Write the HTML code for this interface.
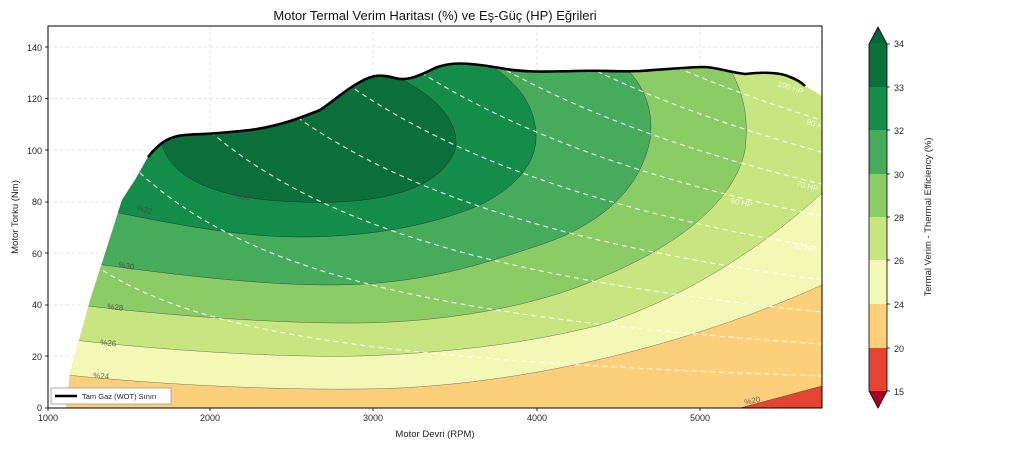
<!DOCTYPE html>
<html><head><meta charset="utf-8"><style>
body{margin:0;background:#fff;font-family:"Liberation Sans",sans-serif}
svg text{font-family:"Liberation Sans",sans-serif}
</style></head><body>
<svg id="s" width="1024" height="448" xmlns="http://www.w3.org/2000/svg">
<defs>
<clipPath id="env"><path id="envp" d="M148,157 C160,142 170,136 185,135 C200,134 215,134 250,130 C280,126 300,118 320,110 C335,100 345,90 360,82 C372,75 380,74 395,78 C405,81 415,78 435,68 C450,62 465,62 500,68 C520,72 540,72 575,71 C600,70 610,72 640,71 C670,69 690,67 705,67 C720,68 728,72 745,74 C760,72 780,72 790,77 C798,80 802,83 805,86 L822,96 L822,408 L66,408 L70,372 L79,340 L90,300 L103,260 L122,200 L135,180 Z"/></clipPath>
<clipPath id="plot"><rect x="48" y="26" width="774" height="382"/></clipPath>
</defs>
<rect width="1024" height="448" fill="#fff"/>
<g stroke="#ddd" stroke-dasharray="3,3" stroke-width="0.8">
<line x1="210" y1="26" x2="210" y2="408"/><line x1="373" y1="26" x2="373" y2="408"/><line x1="537" y1="26" x2="537" y2="408"/><line x1="700" y1="26" x2="700" y2="408"/>
<line x1="48" y1="47" x2="822" y2="47"/><line x1="48" y1="98.5" x2="822" y2="98.5"/><line x1="48" y1="150" x2="822" y2="150"/><line x1="48" y1="202" x2="822" y2="202"/><line x1="48" y1="253" x2="822" y2="253"/><line x1="48" y1="305" x2="822" y2="305"/><line x1="48" y1="356" x2="822" y2="356"/>
</g>
<g clip-path="url(#env)">
<rect x="40" y="20" width="790" height="400" fill="#fdcf7b"/>
<path d="M740,408 L822,386 L822,410 Z" fill="#e34530" stroke="#333" stroke-width="0.4"/>
<path d="M40,372 C150,385 300,392 400,388 C550,380 700,340 822,285 L822,0 L40,0 Z" fill="#f3f9b5" stroke="#555" stroke-width="0.4"/>
<path d="M40,336 C150,350 280,358 360,356 C470,352 540,340 600,325 C680,300 760,250 822,193 L822,0 L40,0 Z" fill="#c7e67f" stroke="#555" stroke-width="0.4"/>
<path d="M40,300 C150,315 280,324 360,323 C450,322 540,305 600,278 C680,245 735,200 745,150 C750,110 740,85 725,60 L40,0 Z" fill="#8ccc67" stroke="#444" stroke-width="0.4"/>
<path d="M40,256 C150,272 250,285 330,285 C420,285 480,265 540,245 C600,225 640,190 650,140 C655,105 640,80 620,62 L40,0 Z" fill="#47ab5c" stroke="#333" stroke-width="0.4"/>
<path d="M40,196 C150,220 230,237 300,237 C380,237 440,222 480,205 C520,185 537,160 536,135 C535,100 510,75 480,60 L40,0 Z" fill="#148c4a" stroke="#222" stroke-width="0.4"/>
<path d="M162,145 C175,185 230,200 300,202 C380,205 440,190 455,150 C462,120 430,90 385,72 L160,100 Z" fill="#0a6f38" stroke="#222" stroke-width="0.4"/>
<g id="hp" fill="none" stroke="#fff" stroke-opacity="0.8" stroke-width="1.2" stroke-dasharray="5,4"></g>
</g>
<path d="M148,157 C160,142 170,136 185,135 C200,134 215,134 250,130 C280,126 300,118 320,110 C335,100 345,90 360,82 C372,75 380,74 395,78 C405,81 415,78 435,68 C450,62 465,62 500,68 C520,72 540,72 575,71 C600,70 610,72 640,71 C670,69 690,67 705,67 C720,68 728,72 745,74 C760,72 780,72 790,77 C798,80 802,83 805,86" fill="none" stroke="#000" stroke-width="2.6"/>
<g font-size="8" fill="#444" fill-opacity="0.8">
<text x="234" y="198" transform="rotate(8 234 198)">%33</text>
<text x="136" y="210" transform="rotate(15 136 210)">%32</text>
<text x="118" y="267" transform="rotate(10 118 267)">%30</text>
<text x="107" y="309" transform="rotate(6 107 309)">%28</text>
<text x="100" y="345" transform="rotate(5 100 345)">%26</text>
<text x="93" y="378" transform="rotate(4 93 378)">%24</text>
<text x="745" y="405" transform="rotate(-12 745 405)">%20</text>
</g>
<g font-size="8" fill="#fff" fill-opacity="0.8">
<text x="777" y="86" transform="rotate(18 777 86)">100 HP</text>
<text x="806" y="124" transform="rotate(18 806 124)">90 HP</text>
<text x="796" y="186" transform="rotate(15 796 186)">70 HP</text>
<text x="730" y="203" transform="rotate(12 730 203)">60 HP</text>
<text x="793" y="248" transform="rotate(10 793 248)">50 HP</text>
</g>
<rect x="48" y="26" width="774" height="382" fill="none" stroke="#000" stroke-width="1"/>
<g font-size="9" fill="#222" text-anchor="end">
<text x="42" y="411">0</text><text x="42" y="360">20</text><text x="42" y="308">40</text><text x="42" y="257">60</text><text x="42" y="205">80</text><text x="42" y="154">100</text><text x="42" y="102">120</text><text x="42" y="51">140</text>
</g>
<g stroke="#000" stroke-width="0.8">
<line x1="45" y1="408" x2="48" y2="408"/><line x1="45" y1="356" x2="48" y2="356"/><line x1="45" y1="305" x2="48" y2="305"/><line x1="45" y1="253" x2="48" y2="253"/><line x1="45" y1="202" x2="48" y2="202"/><line x1="45" y1="150" x2="48" y2="150"/><line x1="45" y1="98.5" x2="48" y2="98.5"/><line x1="45" y1="47" x2="48" y2="47"/>
<line x1="48" y1="408" x2="48" y2="411"/><line x1="210" y1="408" x2="210" y2="411"/><line x1="373" y1="408" x2="373" y2="411"/><line x1="537" y1="408" x2="537" y2="411"/><line x1="700" y1="408" x2="700" y2="411"/>
</g>
<g font-size="9" fill="#222" text-anchor="middle">
<text x="48" y="421">1000</text><text x="210" y="421">2000</text><text x="373" y="421">3000</text><text x="537" y="421">4000</text><text x="700" y="421">5000</text>
</g>
<text x="435" y="437" font-size="9.5" text-anchor="middle" fill="#222">Motor Devri (RPM)</text>
<text x="18" y="217" font-size="9.5" text-anchor="middle" fill="#222" transform="rotate(-90 18 217)">Motor Torku (Nm)</text>
<text x="435" y="20" font-size="13" text-anchor="middle" fill="#111">Motor Termal Verim Haritası (%) ve Eş-Güç (HP) Eğrileri</text>
<rect x="51" y="388" width="120" height="16" fill="#fff" stroke="#999" stroke-width="0.8"/>
<line x1="55" y1="396" x2="77" y2="396" stroke="#000" stroke-width="2.5"/>
<text x="82" y="399" font-size="7.5" fill="#222">Tam Gaz (WOT) Sınırı</text>
<g>
<path d="M869,44 L878,27 L887,44 Z" fill="#006837"/>
<rect x="869" y="43" width="18" height="44" fill="#0a6f38"/>
<rect x="869" y="87" width="18" height="43" fill="#148c4a"/>
<rect x="869" y="130" width="18" height="44" fill="#47ab5c"/>
<rect x="869" y="174" width="18" height="43" fill="#8ccc67"/>
<rect x="869" y="217" width="18" height="43" fill="#c7e67f"/>
<rect x="869" y="260" width="18" height="44" fill="#f3f9b5"/>
<rect x="869" y="304" width="18" height="44" fill="#fdcf7b"/>
<rect x="869" y="348" width="18" height="43" fill="#e34530"/>
<path d="M869,391 L878,408 L887,391 Z" fill="#a50026"/>
<path d="M869,44 L878,27 L887,44 L887,391 L878,408 L869,391 Z" fill="none" stroke="#000" stroke-width="0.8"/>
</g>
<g font-size="9" fill="#222">
<text x="894" y="47">34</text><text x="894" y="91">33</text><text x="894" y="134">32</text><text x="894" y="178">30</text><text x="894" y="221">28</text><text x="894" y="264">26</text><text x="894" y="308">24</text><text x="894" y="352">20</text><text x="894" y="395">15</text>
</g>
<g stroke="#000" stroke-width="0.8">
<line x1="887" y1="44" x2="890" y2="44"/><line x1="887" y1="87" x2="890" y2="87"/><line x1="887" y1="130" x2="890" y2="130"/><line x1="887" y1="174" x2="890" y2="174"/><line x1="887" y1="217" x2="890" y2="217"/><line x1="887" y1="260" x2="890" y2="260"/><line x1="887" y1="304" x2="890" y2="304"/><line x1="887" y1="348" x2="890" y2="348"/><line x1="887" y1="391" x2="890" y2="391"/>
</g>
<text x="931" y="217" font-size="9.5" text-anchor="middle" fill="#222" transform="rotate(-90 931 217)">Termal Verim - Thermal Efficiency (%)</text>
</svg>
<script>
var g=document.getElementById('hp'),h='';
for(var hp=10;hp<=140;hp+=10){var d='';for(var r=1000;r<=5800;r+=100){var T=7121*hp/r;var x=48+(r-1000)*0.1632,y=408-T*2.579;d+=(d?'L':'M')+x.toFixed(1)+','+y.toFixed(1);}h+='<path d="'+d+'"/>';}
g.innerHTML=h;
</script>
</body></html>
